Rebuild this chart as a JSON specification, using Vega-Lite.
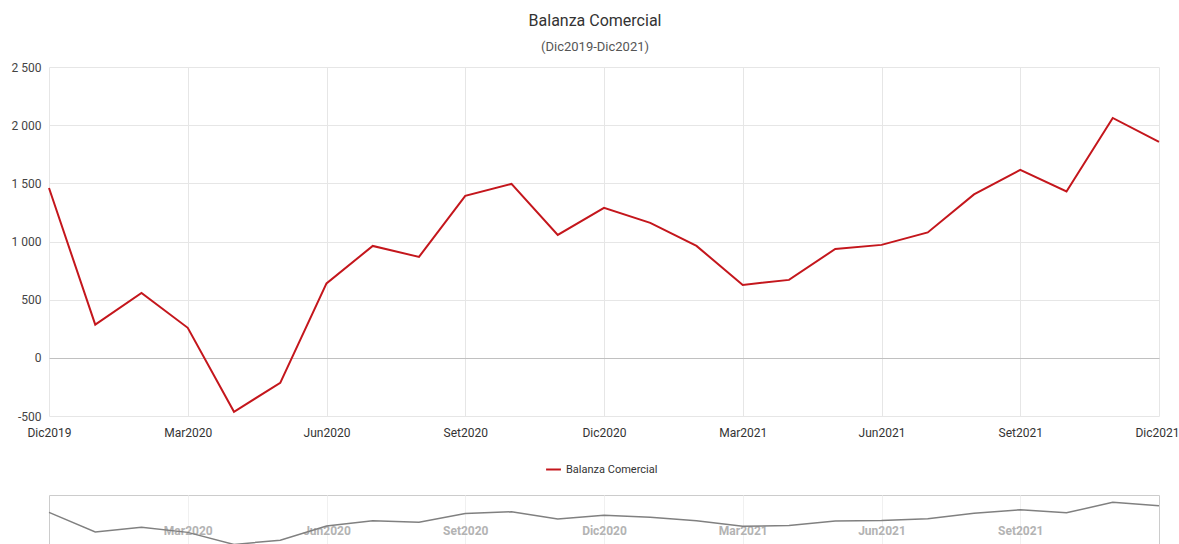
{
  "$schema": "https://vega.github.io/schema/vega-lite/v6.json",
  "background": "white",
  "padding": {"left": 11, "top": 13, "right": 5, "bottom": 0},
  "config": {
    "font": "Roboto",
    "view": {"stroke": null}
  },
  "title": {
    "text": "Balanza Comercial",
    "subtitle": "(Dic2019-Dic2021)",
    "fontSize": 16,
    "fontWeight": "normal",
    "color": "#333333",
    "subtitleFontSize": 13,
    "subtitleColor": "#555555",
    "subtitlePadding": 12,
    "offset": 7,
    "anchor": "middle"
  },
  "data": {
    "values": [
      {"mes": "Dic2019", "valor": 1460, "serie": "Balanza Comercial"},
      {"mes": "Ene2020", "valor": 285, "serie": "Balanza Comercial"},
      {"mes": "Feb2020", "valor": 558, "serie": "Balanza Comercial"},
      {"mes": "Mar2020", "valor": 258, "serie": "Balanza Comercial"},
      {"mes": "Abr2020", "valor": -464, "serie": "Balanza Comercial"},
      {"mes": "May2020", "valor": -215, "serie": "Balanza Comercial"},
      {"mes": "Jun2020", "valor": 640, "serie": "Balanza Comercial"},
      {"mes": "Jul2020", "valor": 962, "serie": "Balanza Comercial"},
      {"mes": "Ago2020", "valor": 868, "serie": "Balanza Comercial"},
      {"mes": "Set2020", "valor": 1392, "serie": "Balanza Comercial"},
      {"mes": "Oct2020", "valor": 1495, "serie": "Balanza Comercial"},
      {"mes": "Nov2020", "valor": 1057, "serie": "Balanza Comercial"},
      {"mes": "Dic2020", "valor": 1289, "serie": "Balanza Comercial"},
      {"mes": "Ene2021", "valor": 1160, "serie": "Balanza Comercial"},
      {"mes": "Feb2021", "valor": 962, "serie": "Balanza Comercial"},
      {"mes": "Mar2021", "valor": 627, "serie": "Balanza Comercial"},
      {"mes": "Abr2021", "valor": 670, "serie": "Balanza Comercial"},
      {"mes": "May2021", "valor": 936, "serie": "Balanza Comercial"},
      {"mes": "Jun2021", "valor": 971, "serie": "Balanza Comercial"},
      {"mes": "Jul2021", "valor": 1078, "serie": "Balanza Comercial"},
      {"mes": "Ago2021", "valor": 1405, "serie": "Balanza Comercial"},
      {"mes": "Set2021", "valor": 1615, "serie": "Balanza Comercial"},
      {"mes": "Oct2021", "valor": 1430, "serie": "Balanza Comercial"},
      {"mes": "Nov2021", "valor": 2062, "serie": "Balanza Comercial"},
      {"mes": "Dic2021", "valor": 1856, "serie": "Balanza Comercial"}
    ]
  },
  "bounds": "flush",
  "spacing": 79,
  "resolve": {"legend": {"color": "independent"}},
  "vconcat": [
    {
      "width": 1110,
      "height": 349,
      "mark": {"type": "line", "strokeWidth": 2},
      "encoding": {
        "x": {
          "field": "mes",
          "type": "ordinal",
          "sort": null,
          "scale": {"type": "point", "padding": 0},
          "axis": {
            "values": ["Dic2019", "Mar2020", "Jun2020", "Set2020", "Dic2020", "Mar2021", "Jun2021", "Set2021", "Dic2021"],
            "title": null,
            "labelAngle": 0,
            "ticks": false,
            "domain": false,
            "grid": true,
            "gridColor": "#e6e6e6",
            "labelColor": "#333333",
            "labelFontSize": 12,
            "labelPadding": 11,
            "labelOffset": {"condition": {"test": "datum.value === 'Dic2021'", "value": -2}, "value": 0}
          }
        },
        "y": {
          "field": "valor",
          "type": "quantitative",
          "scale": {"domain": [-500, 2500], "nice": false},
          "axis": {
            "values": [-500, 0, 500, 1000, 1500, 2000, 2500],
            "labelExpr": "replace(replace(format(datum.value, ','), ',', ' '), '−', '-')",
            "title": null,
            "ticks": false,
            "domain": false,
            "grid": true,
            "gridColor": {"condition": {"test": "datum.value === 0", "value": "#c0c0c0"}, "value": "#e6e6e6"},
            "labelColor": "#444444",
            "labelFontSize": 12,
            "labelPadding": 8
          }
        },
        "color": {
          "field": "serie",
          "type": "nominal",
          "scale": {"range": ["#c4161c"]},
          "legend": {
            "orient": "none",
            "legendX": 496,
            "legendY": 394,
            "title": null,
            "symbolType": "stroke",
            "symbolStrokeWidth": 2,
            "symbolSize": 220,
            "labelFontSize": 11,
            "labelColor": "#333333"
          }
        }
      }
    },
    {
      "width": 1110,
      "height": 50,
      "view": {"stroke": "#cccccc"},
      "mark": {"type": "line", "color": "#808080", "strokeWidth": 1.5},
      "encoding": {
        "x": {
          "field": "mes",
          "type": "ordinal",
          "sort": null,
          "scale": {"type": "point", "padding": 0},
          "axis": {
            "values": ["Mar2020", "Jun2020", "Set2020", "Dic2020", "Mar2021", "Jun2021", "Set2021"],
            "title": null,
            "labelAngle": 0,
            "ticks": false,
            "domain": false,
            "grid": true,
            "gridColor": "#f0f0f0",
            "labelColor": "#b3b3b3",
            "labelFontSize": 12,
            "labelFontWeight": "bold",
            "labelBaseline": "middle",
            "labelPadding": -15
          }
        },
        "y": {
          "field": "valor",
          "type": "quantitative",
          "scale": {"domain": [-500, 2500], "nice": false},
          "axis": null
        }
      }
    }
  ]
}
